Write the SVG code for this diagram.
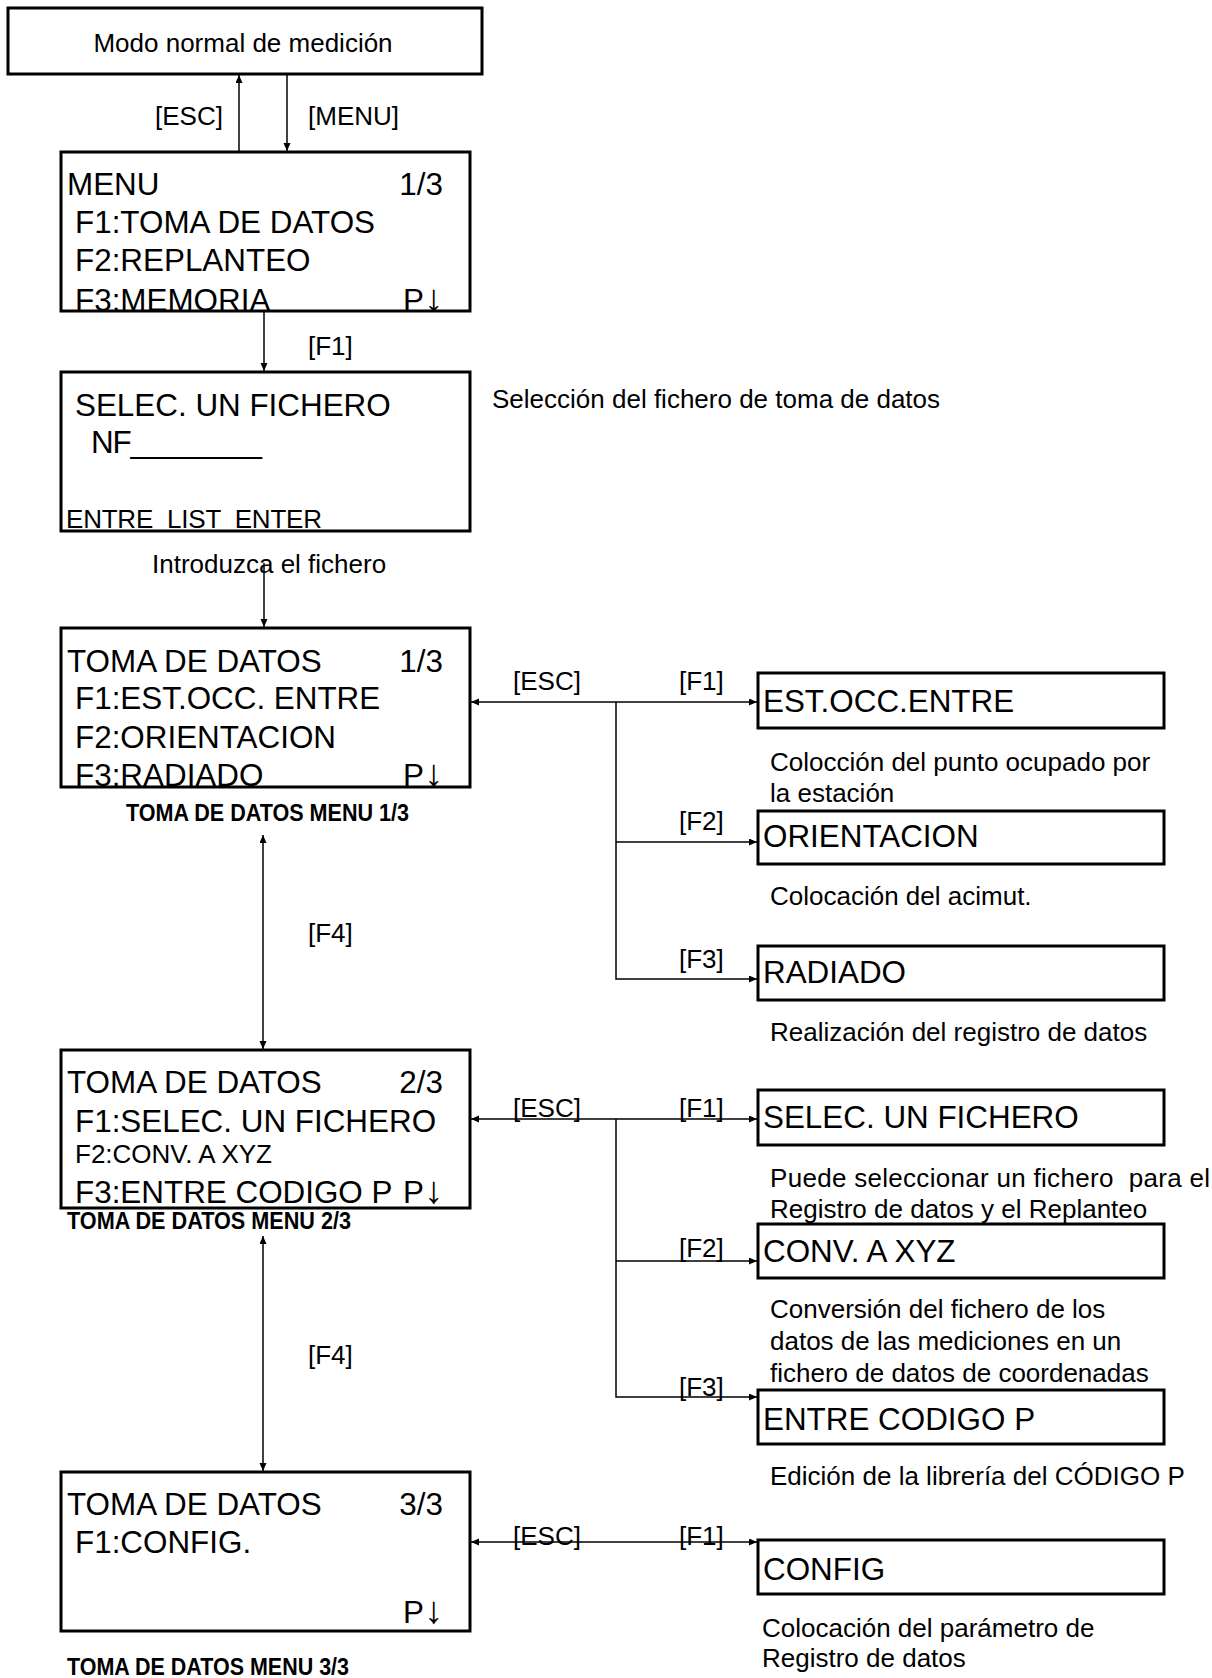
<svg xmlns="http://www.w3.org/2000/svg" width="1212" height="1678" viewBox="0 0 1212 1678">
<style>
.box{fill:#fff;stroke:#000;stroke-width:3}
.lcd{font-family:"Liberation Sans",Arial,sans-serif;font-size:31.4px;fill:#000}
.lbl{font-family:"Liberation Sans",Arial,sans-serif;font-size:26px;fill:#000}
.bold{font-family:"Liberation Sans",Arial,sans-serif;font-size:24px;font-weight:bold;fill:#000}
.arr{font-size:38px}
.con{stroke:#000;stroke-width:1.5;fill:none}
</style>
<defs>
<marker id="ah" markerUnits="userSpaceOnUse" markerWidth="9" markerHeight="8" refX="8" refY="3.5" orient="auto-start-reverse">
<path d="M0,0 L8,3.5 L0,7 z" fill="#000"/>
</marker>
</defs>
<rect width="1212" height="1678" fill="#fff"/>

<g id="connectors">
<line class="con" x1="239" y1="151" x2="239" y2="75" marker-end="url(#ah)"/>
<line class="con" x1="287" y1="75" x2="287" y2="151" marker-end="url(#ah)"/>
<line class="con" x1="264" y1="312" x2="264" y2="371" marker-end="url(#ah)"/>
<line class="con" x1="264" y1="563" x2="264" y2="627" marker-end="url(#ah)"/>
<line class="con" x1="263" y1="835" x2="263" y2="1049" marker-start="url(#ah)" marker-end="url(#ah)"/>
<line class="con" x1="263" y1="1236" x2="263" y2="1471" marker-start="url(#ah)" marker-end="url(#ah)"/>
<line class="con" x1="471" y1="702" x2="757" y2="702" marker-start="url(#ah)" marker-end="url(#ah)"/>
<polyline class="con" points="616,702 616,979 757,979" marker-end="url(#ah)"/>
<line class="con" x1="616" y1="842" x2="757" y2="842" marker-end="url(#ah)"/>
<line class="con" x1="471" y1="1119" x2="757" y2="1119" marker-start="url(#ah)" marker-end="url(#ah)"/>
<polyline class="con" points="616,1119 616,1397 757,1397" marker-end="url(#ah)"/>
<line class="con" x1="616" y1="1261" x2="757" y2="1261" marker-end="url(#ah)"/>
<line class="con" x1="471" y1="1542" x2="757" y2="1542" marker-start="url(#ah)" marker-end="url(#ah)"/>
</g>

<g id="labels">
<text class="lbl" x="155" y="125">[ESC]</text>
<text class="lbl" x="308" y="125">[MENU]</text>
<text class="lbl" x="308" y="355">[F1]</text>
<text class="lbl" x="492" y="408">Selección del fichero de toma de datos</text>
<text class="lbl" x="152" y="573">Introduzca el fichero</text>
<text class="lbl" x="513" y="690">[ESC]</text>
<text class="lbl" x="679" y="690">[F1]</text>
<text class="lbl" x="679" y="830">[F2]</text>
<text class="lbl" x="679" y="968">[F3]</text>
<text class="lbl" x="308" y="942">[F4]</text>
<text class="lbl" x="513" y="1117">[ESC]</text>
<text class="lbl" x="679" y="1117">[F1]</text>
<text class="lbl" x="679" y="1257">[F2]</text>
<text class="lbl" x="679" y="1396">[F3]</text>
<text class="lbl" x="308" y="1364">[F4]</text>
<text class="lbl" x="513" y="1545">[ESC]</text>
<text class="lbl" x="679" y="1545">[F1]</text>
<text class="lbl" x="770" y="771">Colocción del punto ocupado por</text>
<text class="lbl" x="770" y="802">la estación</text>
<text class="lbl" x="770" y="905">Colocación del acimut.</text>
<text class="lbl" x="770" y="1041">Realización del registro de datos</text>
<text class="lbl" x="770" y="1187" textLength="440" xml:space="preserve">Puede seleccionar un fichero  para el</text>
<text class="lbl" x="770" y="1218">Registro de datos y el Replanteo</text>
<text class="lbl" x="770" y="1318">Conversión del fichero de los</text>
<text class="lbl" x="770" y="1350">datos de las mediciones en un</text>
<text class="lbl" x="770" y="1382">fichero de datos de coordenadas</text>
<text class="lbl" x="770" y="1485">Edición de la librería del CÓDIGO P</text>
<text class="lbl" x="762" y="1637">Colocación del parámetro de</text>
<text class="lbl" x="762" y="1667">Registro de datos</text>
<text class="bold" x="126" y="821" textLength="283" lengthAdjust="spacingAndGlyphs">TOMA DE DATOS MENU 1/3</text>
<text class="bold" x="67" y="1229" textLength="284" lengthAdjust="spacingAndGlyphs">TOMA DE DATOS MENU 2/3</text>
<text class="bold" x="67" y="1675" textLength="282" lengthAdjust="spacingAndGlyphs">TOMA DE DATOS MENU 3/3</text>
</g>

<g id="node-modo">
<rect class="box" x="8" y="8" width="474" height="66"/>
<text class="lbl" x="243" y="52" text-anchor="middle">Modo normal de medición</text>
</g>

<g id="node-menu">
<rect class="box" x="61" y="152" width="409" height="159"/>
<text class="lcd" x="67" y="195">MENU</text>
<text class="lcd" x="443" y="195" text-anchor="end">1/3</text>
<text class="lcd" x="75" y="233">F1:TOMA DE DATOS</text>
<text class="lcd" x="75" y="271">F2:REPLANTEO</text>
<text class="lcd" x="75" y="311">F3:MEMORIA</text>
<text class="lcd" x="403" y="311">P<tspan class="arr">↓</tspan></text>
</g>

<g id="node-selec-fichero">
<rect class="box" x="61" y="372" width="409" height="159"/>
<text class="lcd" x="75" y="416">SELEC. UN FICHERO</text>
<text class="lcd" x="91" y="453" textLength="171">NF________</text>
<text class="lbl" x="66" y="528" textLength="256" xml:space="preserve">ENTRE  LIST  ENTER</text>
</g>

<g id="node-toma1">
<rect class="box" x="61" y="628" width="409" height="159"/>
<text class="lcd" x="67" y="672">TOMA DE DATOS</text>
<text class="lcd" x="443" y="672" text-anchor="end">1/3</text>
<text class="lcd" x="75" y="709">F1:EST.OCC. ENTRE</text>
<text class="lcd" x="75" y="748">F2:ORIENTACION</text>
<text class="lcd" x="75" y="786">F3:RADIADO</text>
<text class="lcd" x="403" y="786">P<tspan class="arr">↓</tspan></text>
</g>

<g id="node-toma2">
<rect class="box" x="61" y="1050" width="409" height="158"/>
<text class="lcd" x="67" y="1093">TOMA DE DATOS</text>
<text class="lcd" x="443" y="1093" text-anchor="end">2/3</text>
<text class="lcd" x="75" y="1132">F1:SELEC. UN FICHERO</text>
<text class="lbl" x="75" y="1163">F2:CONV. A XYZ</text>
<text class="lcd" y="1203"><tspan x="75">F3:ENTRE CODIGO P</tspan><tspan x="403">P</tspan><tspan class="arr">↓</tspan></text>
</g>

<g id="node-toma3">
<rect class="box" x="61" y="1472" width="409" height="159"/>
<text class="lcd" x="67" y="1515">TOMA DE DATOS</text>
<text class="lcd" x="443" y="1515" text-anchor="end">3/3</text>
<text class="lcd" x="75" y="1553">F1:CONFIG.</text>
<text class="lcd" x="403" y="1623">P<tspan class="arr">↓</tspan></text>
</g>

<g id="node-est-occ">
<rect class="box" x="758" y="673" width="406" height="55"/>
<text class="lcd" x="763" y="712">EST.OCC.ENTRE</text>
</g>
<g id="node-orientacion">
<rect class="box" x="758" y="811" width="406" height="53"/>
<text class="lcd" x="763" y="847">ORIENTACION</text>
</g>
<g id="node-radiado">
<rect class="box" x="758" y="946" width="406" height="54"/>
<text class="lcd" x="763" y="983">RADIADO</text>
</g>
<g id="node-selec">
<rect class="box" x="758" y="1090" width="406" height="55"/>
<text class="lcd" x="763" y="1128">SELEC. UN FICHERO</text>
</g>
<g id="node-conv">
<rect class="box" x="758" y="1224" width="406" height="54"/>
<text class="lcd" x="763" y="1262">CONV. A XYZ</text>
</g>
<g id="node-codigo">
<rect class="box" x="758" y="1390" width="406" height="54"/>
<text class="lcd" x="763" y="1430">ENTRE CODIGO P</text>
</g>
<g id="node-config">
<rect class="box" x="758" y="1540" width="406" height="54"/>
<text class="lcd" x="763" y="1580">CONFIG</text>
</g>
</svg>
